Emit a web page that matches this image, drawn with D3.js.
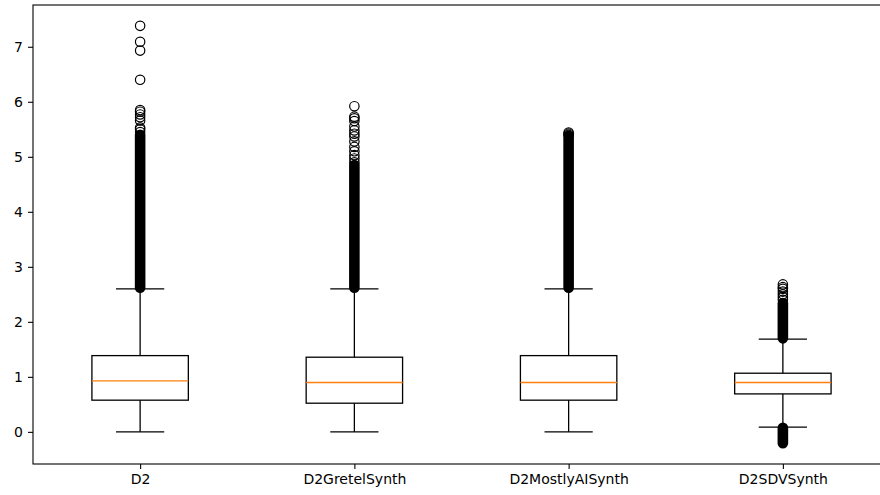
<!DOCTYPE html>
<html>
<head>
<meta charset="utf-8">
<script src="https://cdn.jsdelivr.net/npm/d3@7"></script>
<style>
  html, body { margin: 0; padding: 0; background: #fff; overflow: hidden; }
  svg { display: block; }
  text { font-family: "DejaVu Sans", sans-serif; }
</style>
</head>
<body>
<svg id="chart" width="880" height="495"></svg>
<script>
// ---- data ----
const categories = ["D2", "D2GretelSynth", "D2MostlyAISynth", "D2SDVSynth"];
const whiskerLow  = [0.00, 0.00, 0.00, 0.085];
const q1          = [0.576, 0.521, 0.576, 0.690];
const median      = [0.927, 0.896, 0.896, 0.896];
const q3          = [1.386, 1.357, 1.386, 1.066];
const whiskerHigh = [2.60, 2.60, 2.60, 1.684];
// dense runs of outliers (so many points they merge into a solid column): [low, high]
const denseUpper = [[2.62, 5.40], [2.62, 4.85], [2.62, 5.38], [1.70, 2.34]];
const denseLower = [null, null, null, [-0.205, 0.075]];
// individually visible outliers
const sparseOutliers = [
  [5.45, 5.50, 5.53, 5.66, 5.72, 5.77, 5.82, 5.85, 6.40, 6.93, 7.09, 7.38],
  [4.90, 4.97, 5.03, 5.10, 5.18, 5.28, 5.37, 5.42, 5.48, 5.55, 5.65, 5.70, 5.73, 5.92],
  [5.40, 5.42, 5.44],
  [2.40, 2.45, 2.50, 2.55, 2.60, 2.63, 2.68]
];
const yTicks = [0, 1, 2, 3, 4, 5, 6, 7];

// ---- layout ----
const svg = d3.select("#chart");
const mLeft = 33, mRight = 890, mTop = 5, mBottom = 464;

const allVals = [];
categories.forEach((c, i) => {
  allVals.push(whiskerLow[i], whiskerHigh[i], ...sparseOutliers[i], ...denseUpper[i]);
  if (denseLower[i]) allVals.push(...denseLower[i]);
});
const vmin = d3.min(allVals), vmax = d3.max(allVals);
const pad = (vmax - vmin) * 0.05;

const x = d3.scaleLinear().domain([0.5, categories.length + 0.5]).range([mLeft, mRight]);
const y = d3.scaleLinear().domain([vmin - pad, vmax + pad]).range([mBottom, mTop]);

const boxW = x(1.45) - x(1);   // width 0.45 in data units
const capW = boxW / 2;
const r = 4.7, sw = 1.2;

const g = svg.append("g");

categories.forEach((c, i) => {
  const cx = x(i + 1);
  // dense outlier columns
  [denseUpper[i], denseLower[i]].forEach(d => {
    if (!d) return;
    g.append("line")
      .attr("x1", cx).attr("x2", cx)
      .attr("y1", y(d[0])).attr("y2", y(d[1]))
      .attr("stroke", "#000").attr("stroke-width", 2 * r + sw)
      .attr("stroke-linecap", "round");
  });
  // sparse outliers
  g.selectAll(null).data(sparseOutliers[i]).enter().append("circle")
    .attr("cx", cx).attr("cy", d => y(d)).attr("r", r)
    .attr("fill", "none").attr("stroke", "#000").attr("stroke-width", sw);
  // whiskers
  g.append("line").attr("x1", cx).attr("x2", cx)
    .attr("y1", y(q3[i])).attr("y2", y(whiskerHigh[i]))
    .attr("stroke", "#000").attr("stroke-width", 1.3);
  g.append("line").attr("x1", cx).attr("x2", cx)
    .attr("y1", y(q1[i])).attr("y2", y(whiskerLow[i]))
    .attr("stroke", "#000").attr("stroke-width", 1.3);
  // caps
  [whiskerHigh[i], whiskerLow[i]].forEach(v => {
    g.append("line").attr("x1", cx - capW / 2).attr("x2", cx + capW / 2)
      .attr("y1", y(v)).attr("y2", y(v))
      .attr("stroke", "#000").attr("stroke-width", 1.3);
  });
  // box
  g.append("rect")
    .attr("x", cx - boxW / 2).attr("width", boxW)
    .attr("y", y(q3[i])).attr("height", y(q1[i]) - y(q3[i]))
    .attr("fill", "none").attr("stroke", "#000").attr("stroke-width", 1.3);
  // median
  g.append("line").attr("x1", cx - boxW / 2).attr("x2", cx + boxW / 2)
    .attr("y1", y(median[i])).attr("y2", y(median[i]))
    .attr("stroke", "#ff7f0e").attr("stroke-width", 1.4);
});

// ---- axes ----
const yAxis = d3.axisLeft(y).tickValues(yTicks).tickFormat(d3.format("d"))
  .tickSize(5).tickPadding(5);
const yg = svg.append("g").attr("transform", `translate(${mLeft},0)`).call(yAxis);
yg.select(".domain").remove();
yg.selectAll(".tick line").attr("stroke", "#000").attr("stroke-width", 1.1);
yg.selectAll("text").attr("font-size", 14).attr("fill", "#000")
  .style("font-family", "DejaVu Sans");

const xAxis = d3.axisBottom(x).tickValues(d3.range(1, categories.length + 1))
  .tickFormat(d => categories[d - 1]).tickSize(5).tickPadding(5);
const xg = svg.append("g").attr("transform", `translate(0,${mBottom})`).call(xAxis);
xg.select(".domain").remove();
xg.selectAll(".tick line").attr("stroke", "#000").attr("stroke-width", 1.1);
xg.selectAll("text").attr("font-size", 14).attr("fill", "#000")
  .style("font-family", "DejaVu Sans");

// spines
svg.append("rect")
  .attr("x", mLeft).attr("y", mTop)
  .attr("width", mRight - mLeft).attr("height", mBottom - mTop)
  .attr("fill", "none").attr("stroke", "#000").attr("stroke-width", 1.1);
</script>
</body>
</html>
